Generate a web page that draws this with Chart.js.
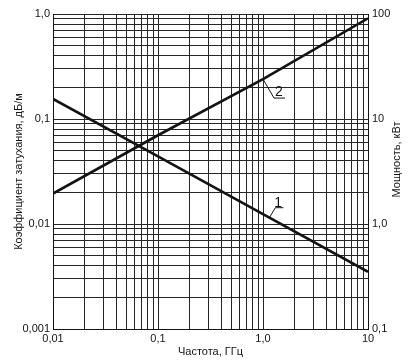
<!DOCTYPE html>
<html lang="ru">
<head>
    <meta charset="UTF-8" />
    <title>Затухание и мощность</title>
    <script src="https://cdn.jsdelivr.net/npm/chart.js"></script>
    <style>
        body { margin: 0; background: #fff; }
    </style>
</head>
<body>
    <canvas id="chart" width="411" height="362"></canvas>

    <script>
        // data
        const freq = [0.01, 0.1, 1, 10];                        // ГГц
        const attenuation = [0.155, 0.044, 0.0124, 0.0035];     // кривая 1, дБ/м
        const power = [1.95, 7.0, 24, 91];                      // кривая 2, кВт

        const xDecades = [0.01, 0.1, 1, 10];
        const xTickLabels = ['0,01', '0,1', '1,0', '10'];
        const yDecades = [0.001, 0.01, 0.1, 1];
        const yTickLabels = ['0,001', '0,01', '0,1', '1,0'];
        const y2Decades = [0.1, 1, 10, 100];
        const y2TickLabels = ['0,1', '1,0', '10', '100'];

        const curveNames = ['1', '2'];

        const ink = '#141414';
        const font = { family: "'Liberation Sans', Arial, sans-serif", size: 11 };

        // gridlines at 1..9 of every decade
        function logTicks(decades) {
            const out = [];
            decades.forEach((d, i) => {
                if (i === decades.length - 1) { out.push({ value: d }); return; }
                for (let m = 1; m <= 9; m++) out.push({ value: m * d });
            });
            return out;
        }

        function labelFor(decades, labels) {
            return function (value) {
                const i = decades.findIndex(d => Math.abs(value / d - 1) < 1e-6);
                return i >= 0 ? labels[i] : '';
            };
        }

        // y pixel of a dataset at a given x pixel (lines are straight in log-log)
        function yOnLine(chart, dsIndex, px) {
            const pts = chart.getDatasetMeta(dsIndex).data;
            for (let i = 0; i < pts.length - 1; i++) {
                const a = pts[i], b = pts[i + 1];
                if (px >= a.x && px <= b.x) return a.y + (b.y - a.y) * (px - a.x) / (b.x - a.x);
            }
            return pts[pts.length - 1].y;
        }

        // numbered leaders "1" and "2" plus the right axis title
        const extras = {
            id: 'extras',
            afterDatasetsDraw(chart) {
                const { ctx, scales: { x } } = chart;
                ctx.save();
                ctx.strokeStyle = ink;
                ctx.fillStyle = ink;
                ctx.lineWidth = 1;
                ctx.font = "14px 'Liberation Sans', Arial, sans-serif";
                ctx.textBaseline = 'alphabetic';

                // curve 1: leader goes up-right from the line
                let px = x.getPixelForValue(1.15);
                let py = yOnLine(chart, 0, px);
                ctx.beginPath();
                ctx.moveTo(px, py);
                ctx.lineTo(px + 6, py - 10);
                ctx.lineTo(px + 14, py - 10);
                ctx.stroke();
                ctx.fillText(curveNames[0], px + 5, py - 11);

                // curve 2: leader goes down-right from the line
                px = x.getPixelForValue(1.0);
                py = yOnLine(chart, 1, px);
                ctx.beginPath();
                ctx.moveTo(px, py);
                ctx.lineTo(px + 11, py + 19);
                ctx.lineTo(px + 22, py + 19);
                ctx.stroke();
                ctx.fillText(curveNames[1], px + 12, py + 17);

                // right axis title, reading bottom to top
                const { chartArea } = chart;
                ctx.font = "11px 'Liberation Sans', Arial, sans-serif";
                ctx.translate(397, (chartArea.top + chartArea.bottom) / 2 - 12);
                ctx.rotate(-Math.PI / 2);
                ctx.textAlign = 'center';
                ctx.textBaseline = 'middle';
                ctx.fillText('Мощность, кВт', 0, 0);
                ctx.restore();
            }
        };

        const gridStyle = { color: '#262626', lineWidth: 1, drawTicks: false, tickLength: 0 };

        new Chart(document.getElementById('chart'), {
            type: 'line',
            data: {
                datasets: [
                    {
                        label: curveNames[0],
                        data: freq.map((f, i) => ({ x: f, y: attenuation[i] })),
                        yAxisID: 'y',
                        borderColor: ink,
                        borderWidth: 2.7,
                        pointRadius: 0,
                        tension: 0
                    },
                    {
                        label: curveNames[1],
                        data: freq.map((f, i) => ({ x: f, y: power[i] })),
                        yAxisID: 'y2',
                        borderColor: ink,
                        borderWidth: 2.7,
                        pointRadius: 0,
                        tension: 0
                    }
                ]
            },
            plugins: [extras],
            options: {
                responsive: false,
                animation: false,
                layout: { padding: { top: 14, left: 0, right: 0, bottom: 0 } },
                plugins: { legend: { display: false }, tooltip: { enabled: false } },
                scales: {
                    x: {
                        type: 'logarithmic',
                        min: 0.01,
                        max: 10,
                        grid: gridStyle,
                        border: { color: ink },
                        afterBuildTicks: s => { s.ticks = logTicks(xDecades); },
                        afterFit: s => { s.height = 33; },
                        ticks: {
                            autoSkip: false,
                            maxRotation: 0,
                            padding: 3,
                            color: ink,
                            font: font,
                            callback: labelFor(xDecades, xTickLabels)
                        },
                        title: {
                            display: true,
                            text: 'Частота, ГГц',
                            color: ink,
                            font: font,
                            padding: { top: 0, bottom: 3 }
                        }
                    },
                    y: {
                        type: 'logarithmic',
                        position: 'left',
                        min: 0.001,
                        max: 1,
                        grid: gridStyle,
                        border: { color: ink },
                        afterBuildTicks: s => { s.ticks = logTicks(yDecades); },
                        afterFit: s => { s.width = 53; },
                        ticks: {
                            autoSkip: false,
                            padding: 3,
                            color: ink,
                            font: font,
                            callback: labelFor(yDecades, yTickLabels)
                        },
                        title: {
                            display: true,
                            text: 'Коэффициент затухания, дБ/м',
                            color: ink,
                            font: font,
                            padding: { top: 12, bottom: 0 }
                        }
                    },
                    y2: {
                        type: 'logarithmic',
                        position: 'right',
                        min: 0.1,
                        max: 100,
                        grid: { drawOnChartArea: false, drawTicks: false, tickLength: 0 },
                        border: { color: ink },
                        afterBuildTicks: s => { s.ticks = logTicks(y2Decades); },
                        afterFit: s => { s.width = 43; },
                        ticks: {
                            autoSkip: false,
                            padding: 4,
                            color: ink,
                            font: font,
                            callback: labelFor(y2Decades, y2TickLabels)
                        }
                    }
                }
            }
        });
    </script>
</body>
</html>
